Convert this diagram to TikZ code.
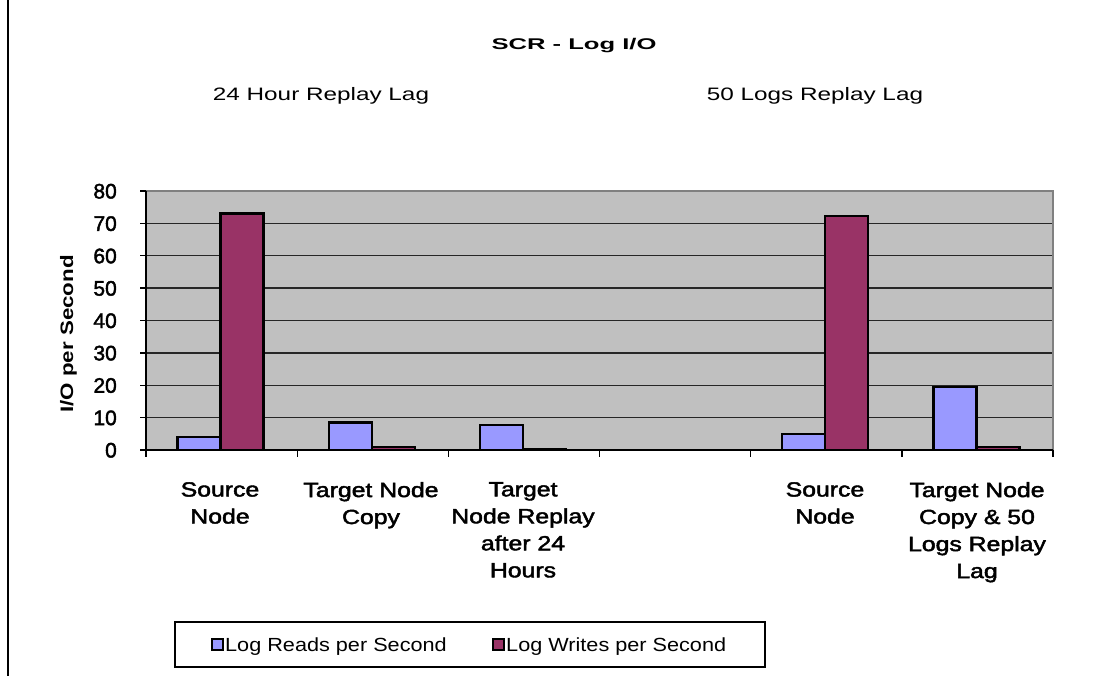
\documentclass[tikz,border=0pt]{standalone}
\usepackage{fontspec}
\setmainfont{Liberation Sans}
\newfontfamily\medfont[FakeBold=2]{Liberation Sans}
\usepackage{graphicx}
\definecolor{readc}{HTML}{9999FF}
\definecolor{writec}{HTML}{993366}
\definecolor{plotbg}{HTML}{C0C0C0}
\definecolor{plotedge}{HTML}{808080}
\newcommand{\hs}[2]{\scalebox{#1}[1]{#2}}
\newcommand{\cl}[1]{\scalebox{1.21}[1]{#1}}
\tikzset{
  gridline/.style={line width=1.3pt, black!85},
  barbox/.style={line width=2.4pt, black, line join=miter},
  readbar/.style={barbox, fill=readc},
  writebar/.style={barbox, fill=writec},
  ticklabel/.style={anchor=base east, inner sep=0, font=\medfont\fontsize{21}{24}\selectfont},
  catlabel/.style={anchor=north, inner sep=0, align=center, font=\medfont\fontsize{20.5}{27}\selectfont},
  subtitle/.style={anchor=base, inner sep=0, font=\fontsize{18}{22}\selectfont},
  legtext/.style={anchor=base west, inner sep=0, font=\fontsize{19}{22}\selectfont},
  legsq/.style={line width=1.6pt, black},
}
\begin{document}
\begin{tikzpicture}[x=1pt,y=-1pt]
\useasboundingbox (0,0) rectangle (1118,676);
\fill[white] (0,0) rectangle (1118,676);
% left frame line
\draw[line width=1.2pt] (8,0) -- (8,676);
% plot area
\fill[plotbg] (146,191) rectangle (1053,450);
\foreach \v in {10,20,...,70}
  \draw[gridline] (146,{450-3.2375*\v}) -- (1053,{450-3.2375*\v});
\draw[plotedge, line width=2pt] (146,191) -- (1053,191) -- (1053,450);
% bars
\foreach \c/\r/\w in {0/4.1/73.1, 1/8.5/1.0, 2/7.7/0.4, 4/4.9/72.3, 5/19.5/1.0}{
  \pgfmathsetmacro{\cx}{146+151.17*(\c+0.5)-1}
  \draw[readbar] ({\cx-43},450) rectangle (\cx,{450-3.2375*\r});
  \draw[writebar] (\cx,450) rectangle ({\cx+43},{450-3.2375*\w});
}
% axes
\draw[line width=1.3pt] (146,191) -- (146,457);
\draw[line width=1.3pt] (146,450) -- (1053,450);
\foreach \v in {0,10,...,80}
  \draw[line width=1.3pt] (140,{450-3.2375*\v}) -- (146,{450-3.2375*\v});
\foreach \k in {0,...,6}
  \draw[line width=1.3pt] ({146+151.17*\k},450) -- ({146+151.17*\k},457);
% y tick labels
\foreach \v in {0,10,...,80}
  \node[ticklabel] (t\v) at (117,{450-3.2375*\v+7.5}) {\v};
% y axis title
\node[anchor=base, inner sep=0, rotate=90, font=\fontsize{18}{22}\selectfont\bfseries] (ytitle) at (73,334) {\hs{1.24}{I/O per Second}};
% titles
\node[anchor=base, inner sep=0, font=\fontsize{15.5}{18}\selectfont\bfseries] (title) at (574,50) {\hs{1.65}{SCR - Log I/O}};
\node[subtitle] (sub1) at (321,100.5) {\hs{1.35}{24 Hour Replay Lag}};
\node[subtitle] (sub2) at (815,100.5) {\hs{1.35}{50 Logs Replay Lag}};
% category labels
\node[catlabel] (c1) at (220,482) {\cl{Source}\\\cl{Node}};
\node[catlabel] (c2) at (371,482) {\cl{Target Node}\\\cl{Copy}};
\node[catlabel] (c3) at (523,482) {\cl{Target}\\\cl{Node Replay}\\\cl{after 24}\\\cl{Hours}};
\node[catlabel] (c5) at (825,482) {\cl{Source}\\\cl{Node}};
\node[catlabel] (c6) at (977,482) {\cl{Target Node}\\\cl{Copy \& 50}\\\cl{Logs Replay}\\\cl{Lag}};
% legend
\draw[line width=1.3pt] (175,622) rectangle (765,667);
\draw[legsq, fill=readc] (212,639) rectangle (223,650);
\node[legtext] (l1) at (225,651.5) {\hs{1.14}{Log Reads per Second}};
\draw[legsq, fill=writec] (493,639) rectangle (504,650);
\node[legtext] (l2) at (506,651.5) {\hs{1.14}{Log Writes per Second}};
\end{tikzpicture}
\end{document}
